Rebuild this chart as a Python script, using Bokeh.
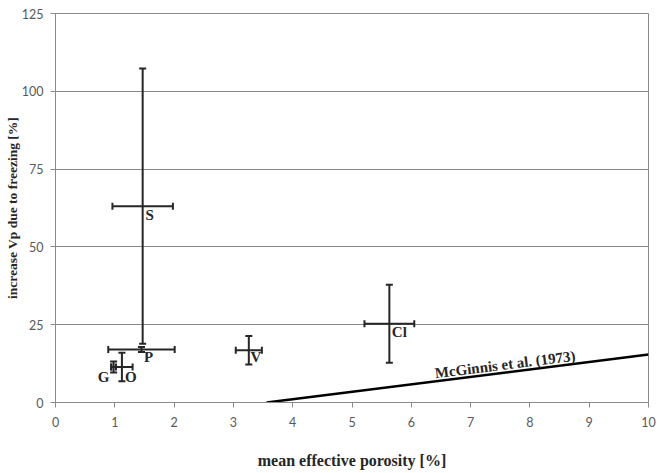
import math
import numpy as np
from bokeh.plotting import figure
from bokeh.models import Range1d, ColumnDataSource, Whisker, TeeHead, FixedTicker
from bokeh.core.properties import value
from bokeh.embed import file_html
from bokeh.resources import INLINE

# ---- data ----
samples = ["S", "P", "G", "O", "V", "Cl"]
porosity = [1.47, 1.45, 0.98, 1.12, 3.26, 5.63]          # mean effective porosity [%]
porosity_err = [0.51, 0.56, 0.04, 0.18, 0.22, 0.42]
vp_increase = [63.1, 17.0, 11.4, 11.4, 16.8, 25.3]       # increase Vp due to freezing [%]
vp_err = [44.2, 0.8, 1.8, 4.6, 4.6, 12.5]

mcginnis_x = [3.56, 10.0]
mcginnis_y = [0.0, 15.4]
mcginnis_label = "McGinnis et al. (1973)"
mcginnis_label_x = 7.6

x_ticks = [0, 1, 2, 3, 4, 5, 6, 7, 8, 9, 10]
y_ticks = [0, 25, 50, 75, 100, 125]

# ---- styling (pixel offsets of labels) ----
label_dx = [7, 7, -10, 9, 7, 10]
label_dy = [9, 7, 10, 10, 7, 8]

AX = "#8a8a8a"
INK = "#262626"

p = figure(width=656, height=471, output_backend="svg", toolbar_location=None,
           x_range=Range1d(0, 10), y_range=Range1d(0, 125),
           min_border_left=55, min_border_right=8, min_border_top=13, min_border_bottom=68)
p.background_fill_color = "white"
p.border_fill_color = "white"
p.outline_line_color = AX
p.outline_line_width = 1

for ax in (p.xaxis[0], p.yaxis[0]):
    ax.axis_line_color = AX
    ax.major_tick_line_color = AX
    ax.major_tick_in = 0
    ax.major_tick_out = 5
    ax.minor_tick_line_color = None
    ax.major_label_text_font = "Lato"
    ax.major_label_text_font_size = "12.5px"
    ax.major_label_text_color = "#595959"
    ax.axis_label_text_font = "Liberation Serif"
    ax.axis_label_text_font_style = "bold"
    ax.axis_label_text_color = INK

p.xaxis[0].ticker = FixedTicker(ticks=x_ticks)
p.yaxis[0].ticker = FixedTicker(ticks=y_ticks)
p.xaxis[0].axis_label = "mean effective porosity [%]"
p.yaxis[0].axis_label = "increase Vp due to freezing [%]"
p.xaxis[0].axis_label_text_font_size = "16px"
p.yaxis[0].axis_label_text_font_size = "13.5px"
p.xaxis[0].axis_label_standoff = 22
p.yaxis[0].axis_label_standoff = -1
p.xaxis[0].major_label_standoff = 9
p.yaxis[0].major_label_standoff = 7

p.xgrid.visible = False
p.ygrid[0].ticker = FixedTicker(ticks=y_ticks)
p.ygrid.grid_line_color = AX
p.ygrid.grid_line_width = 1

src = ColumnDataSource(dict(
    x=porosity, y=vp_increase,
    xlo=[a - b for a, b in zip(porosity, porosity_err)],
    xhi=[a + b for a, b in zip(porosity, porosity_err)],
    ylo=[a - b for a, b in zip(vp_increase, vp_err)],
    yhi=[a + b for a, b in zip(vp_increase, vp_err)],
    name=samples, dx=label_dx, dy=label_dy,
))

def head():
    return TeeHead(size=7, line_color=INK, line_width=2)

p.add_layout(Whisker(source=src, base="x", lower="ylo", upper="yhi", dimension="height",
                     line_color=INK, line_width=2, upper_head=head(), lower_head=head()))
p.add_layout(Whisker(source=src, base="y", lower="xlo", upper="xhi", dimension="width",
                     line_color=INK, line_width=2, upper_head=head(), lower_head=head()))

p.text("x", "y", text="name", source=src, x_offset="dx", y_offset="dy",
       text_align="center", text_baseline="middle",
       text_font=value("Liberation Serif"), text_font_style="bold",
       text_font_size="15px", text_color=INK)

p.line(mcginnis_x, mcginnis_y, line_color="black", line_width=2.5)

# rotate label along the line (screen-space slope)
frame_w = 593.0
frame_h = 390.0
dx_px = (mcginnis_x[1] - mcginnis_x[0]) / 10.0 * frame_w
dy_px = (mcginnis_y[1] - mcginnis_y[0]) / 125.0 * frame_h
ang = math.atan2(dy_px, dx_px)
ly = float(np.interp(mcginnis_label_x, mcginnis_x, mcginnis_y))
p.text([mcginnis_label_x], [ly], text=[mcginnis_label], angle=ang,
       text_align="center", text_baseline="bottom", y_offset=0,
       text_font=value("Liberation Serif"), text_font_style="bold",
       text_font_size="15px", text_color=INK)

open("out.html", "w").write(file_html(p, INLINE))
